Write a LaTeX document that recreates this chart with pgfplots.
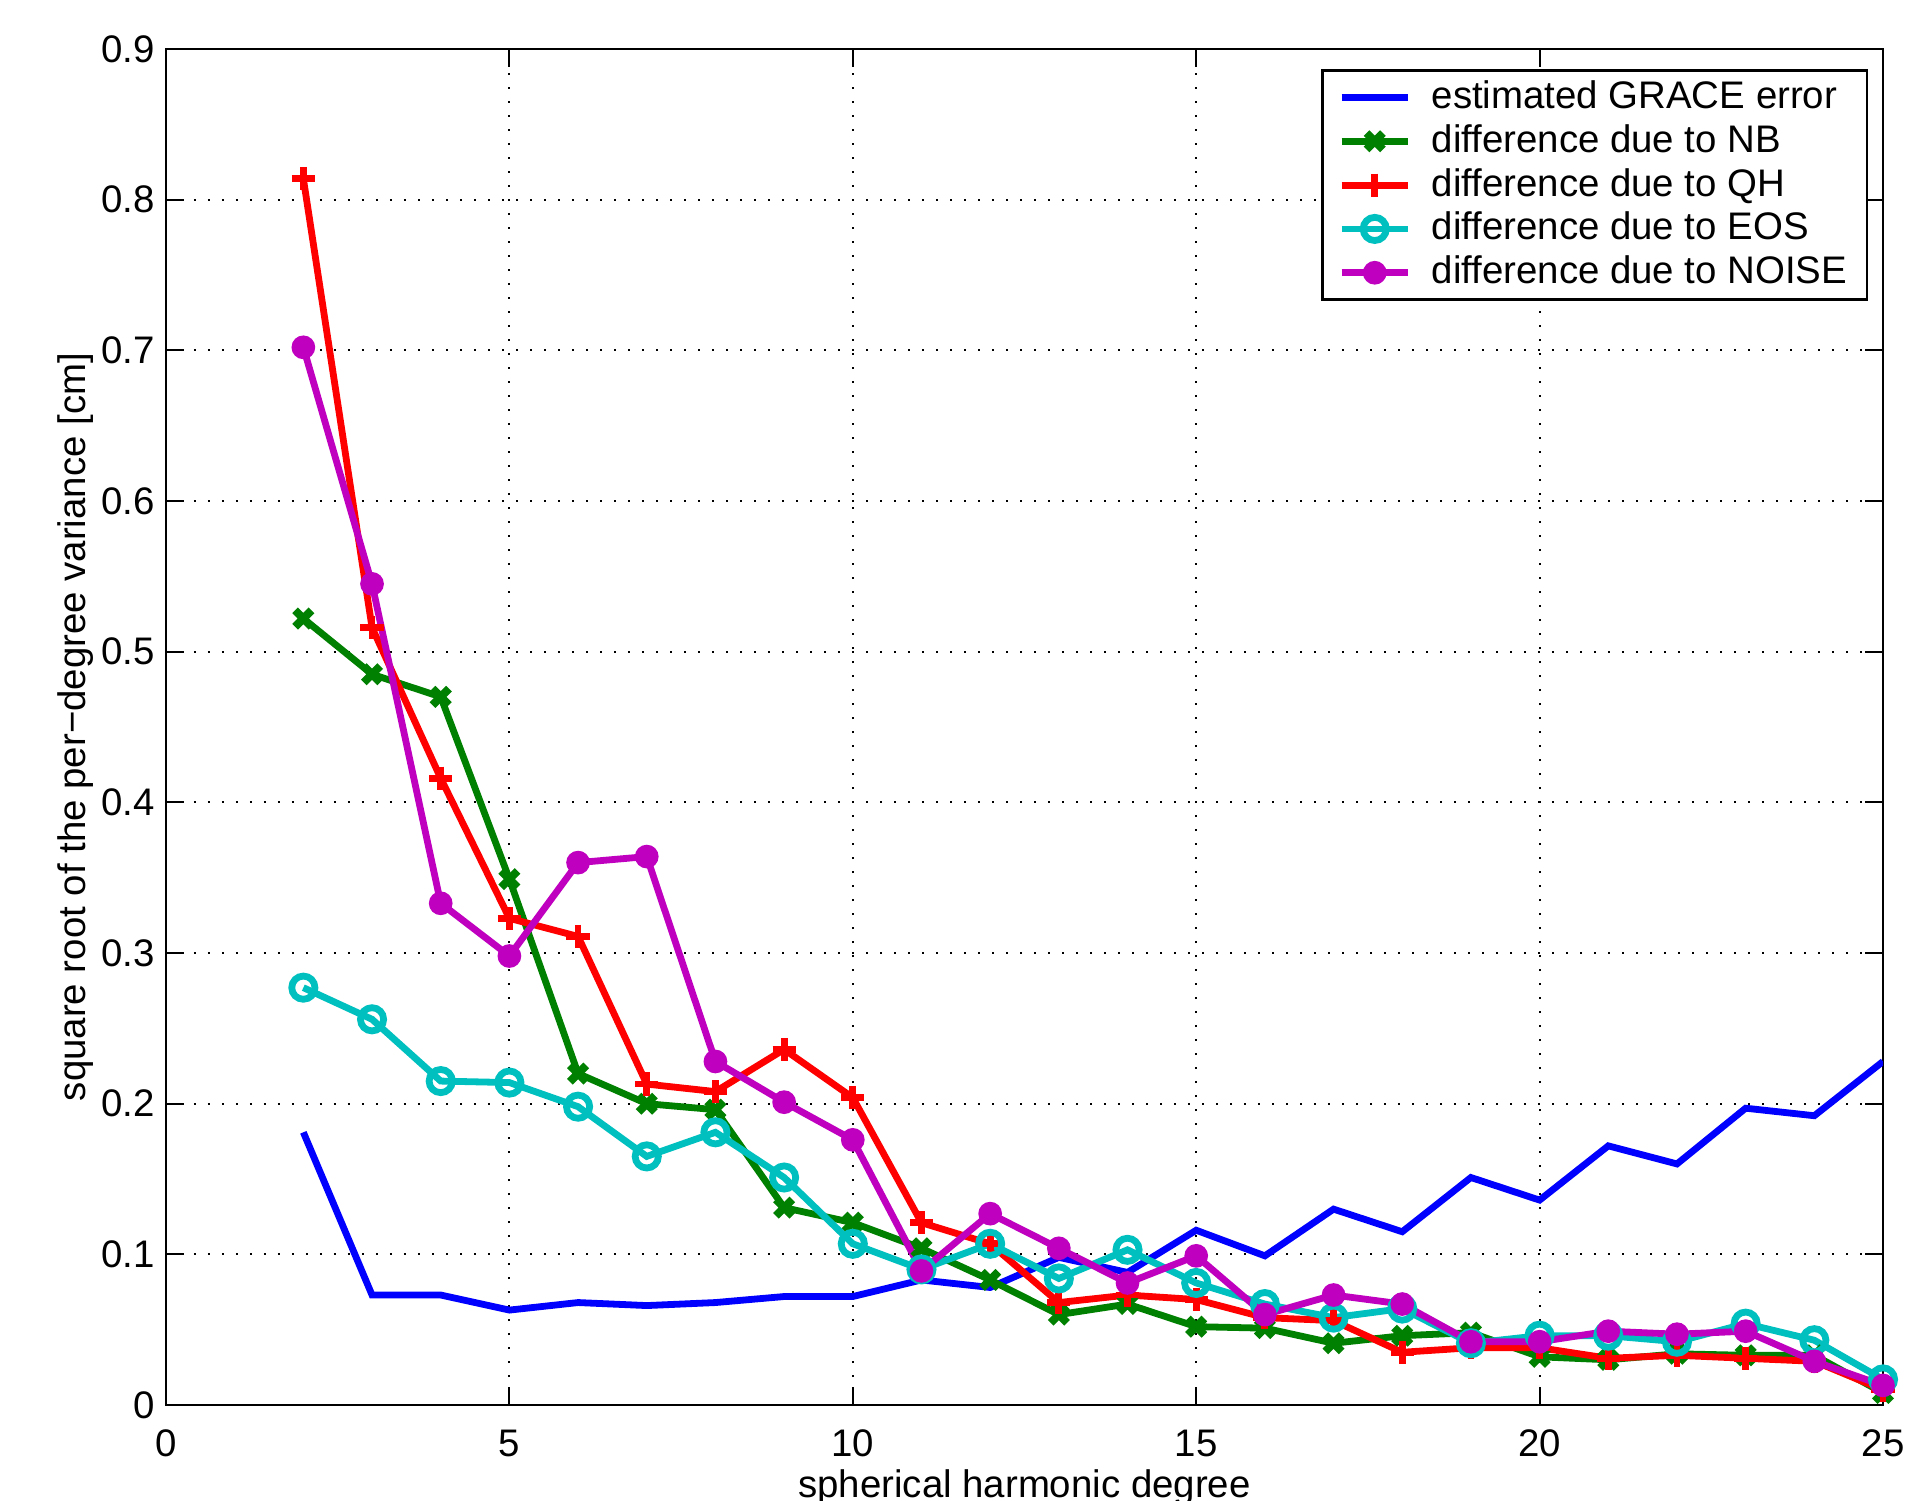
\documentclass[border=0pt]{standalone}
\usepackage{fontspec}
\setmainfont{Liberation Sans}
\usepackage{pgfplots}
\pgfplotsset{compat=1.18}
\definecolor{mblue}{rgb}{0,0,1}
\definecolor{mgreen}{rgb}{0,0.5,0}
\definecolor{mred}{rgb}{1,0,0}
\definecolor{mcyan}{rgb}{0,0.75,0.75}
\definecolor{mmag}{rgb}{0.75,0,0.75}
\begin{document}
\begin{tikzpicture}
\begin{axis}[
  name=ax,
  at={(0,0)}, anchor=south west,
  scale only axis,
  width=429.25pt, height=339pt,
  xmin=0, xmax=25, ymin=0, ymax=0.9,
  xtick={0,5,10,15,20,25},
  ytick={0,0.1,0.2,0.3,0.4,0.5,0.6,0.7,0.8,0.9},
  yticklabels={0,0.1,0.2,0.3,0.4,0.5,0.6,0.7,0.8,0.9},
  xticklabels={0,5,10,15,20,25},
  tick align=inside,
  major tick length=4.5pt,
  tick style={black, line width=0.5pt},
  axis line style={black, line width=0.6pt},
  grid=major,
  grid style={black, line width=0.5pt, dash pattern=on 0.5pt off 3pt},
  /pgf/number format/assume math mode=true,
  tick label style={font=\fontsize{9.6}{11}\selectfont},
  xticklabel style={yshift=-2.7pt},
  yticklabel style={xshift=0.7pt},
  label style={font=\fontsize{9.6}{11}\selectfont},
  xlabel={spherical harmonic degree},
  ylabel={square root of the per−degree variance [cm]},
  xlabel style={at={(axis description cs:0.5,0)}, anchor=north, yshift=-12.6pt},
  ylabel style={yshift=-5pt},
  legend style={at={(0.9915,0.985)}, anchor=north east, draw=black, line width=0.6pt,
    font=\fontsize{9.6}{11}\selectfont, row sep=-1.5pt, inner xsep=3pt, inner ysep=0.5pt},
  legend cell align=left,
  legend image code/.code={\path (-0.035cm,0cm);\draw[mark repeat=2,mark phase=2] plot coordinates {(0cm,0cm) (0.29cm,0cm) (0.58cm,0cm)};\path (0.69cm,0cm);},
  every axis plot/.append style={line width=1.7pt, line join=miter},
]
\addplot[color=mblue] coordinates {
(2,0.181)(3,0.073)(4,0.073)(5,0.063)(6,0.068)(7,0.066)(8,0.068)(9,0.072)(10,0.072)(11,0.083)(12,0.078)(13,0.098)(14,0.088)(15,0.116)(16,0.099)(17,0.130)(18,0.115)(19,0.151)(20,0.136)(21,0.172)(22,0.160)(23,0.197)(24,0.192)(25,0.228)};
\addlegendentry{estimated GRACE error}
\addplot[color=mgreen, mark=x, mark size=2.9pt, mark options={solid, line width=2pt}] coordinates {
(2,0.522)(3,0.485)(4,0.470)(5,0.349)(6,0.220)(7,0.200)(8,0.196)(9,0.131)(10,0.121)(11,0.104)(12,0.083)(13,0.060)(14,0.067)(15,0.052)(16,0.051)(17,0.041)(18,0.046)(19,0.048)(20,0.032)(21,0.030)(22,0.034)(23,0.033)(24,0.033)(25,0.008)};
\addlegendentry{difference due to NB}
\addplot[color=mred, mark=+, mark size=2.9pt, mark options={solid, line width=1.7pt}] coordinates {
(2,0.814)(3,0.516)(4,0.416)(5,0.323)(6,0.311)(7,0.213)(8,0.208)(9,0.236)(10,0.204)(11,0.121)(12,0.107)(13,0.068)(14,0.073)(15,0.070)(16,0.058)(17,0.056)(18,0.035)(19,0.038)(20,0.038)(21,0.031)(22,0.033)(23,0.031)(24,0.029)(25,0.010)};
\addlegendentry{difference due to QH}
\addplot[color=mcyan, mark=o, mark size=2.9pt, mark options={solid, line width=1.7pt}] coordinates {
(2,0.277)(3,0.256)(4,0.215)(5,0.214)(6,0.198)(7,0.165)(8,0.181)(9,0.151)(10,0.107)(11,0.090)(12,0.107)(13,0.084)(14,0.103)(15,0.081)(16,0.067)(17,0.058)(18,0.064)(19,0.041)(20,0.046)(21,0.046)(22,0.042)(23,0.054)(24,0.043)(25,0.017)};
\addlegendentry{difference due to EOS}
\addplot[color=mmag, mark=*, mark size=2.1pt, mark options={solid}] coordinates {
(2,0.702)(3,0.545)(4,0.333)(5,0.298)(6,0.360)(7,0.364)(8,0.228)(9,0.201)(10,0.176)(11,0.089)(12,0.127)(13,0.104)(14,0.081)(15,0.099)(16,0.060)(17,0.073)(18,0.067)(19,0.042)(20,0.042)(21,0.049)(22,0.047)(23,0.049)(24,0.029)(25,0.013)};
\addlegendentry{difference due to NOISE}
\end{axis}
\pgfresetboundingbox
\path[use as bounding box] (-41.5pt,-23.75pt) rectangle (434.75pt,351.25pt);
\end{tikzpicture}
\end{document}
